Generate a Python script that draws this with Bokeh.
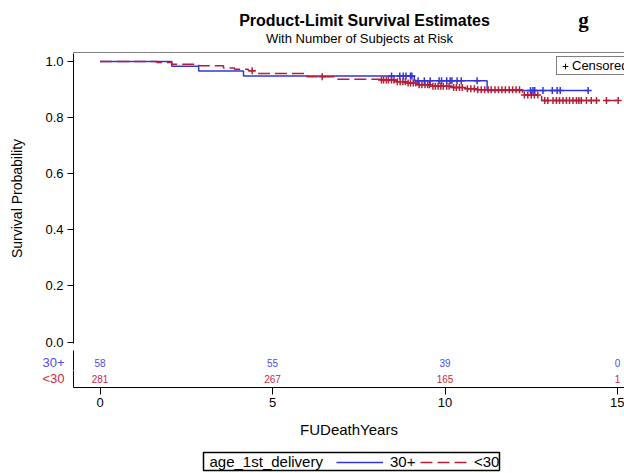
import numpy as np
from bokeh.plotting import figure
from bokeh.models import (Range1d, FixedTicker, NumeralTickFormatter, Legend, LegendItem,
                          Label, BoxAnnotation, ColumnDataSource)
from bokeh.layouts import column
from bokeh.embed import file_html
from bokeh.resources import INLINE
from bokeh.core.properties import value

# ---------------- data ----------------
groups = ["30+", "<30"]

blue_times = [0.0, 2.08, 2.86, 4.16, 9.11, 11.22]
blue_surv = [1.0, 0.983, 0.966, 0.948, 0.931, 0.897]
blue_end = 14.15
blue_censor = [8.45, 8.69, 8.79, 8.87, 9.00, 9.04,
               9.22, 9.40, 9.57, 9.83, 9.90, 10.05, 10.15, 10.20, 10.35, 10.47, 10.93,
               12.48, 12.55, 12.60, 12.84, 13.11, 13.25, 13.34, 14.15]

red_times = [0.0, 1.65, 2.08, 2.86, 3.58, 3.90, 4.30, 4.60, 6.00, 6.78, 8.14, 8.60,
             8.90, 9.20, 9.60, 10.20, 10.60, 10.90, 12.25, 12.80]
red_surv = [1.0, 0.996, 0.990, 0.985, 0.977, 0.972, 0.967, 0.957, 0.946, 0.937, 0.934, 0.928,
            0.923, 0.917, 0.912, 0.907, 0.903, 0.899, 0.881, 0.861]
red_end = 15.02
red_censor = [4.41, 6.44,
              8.16, 8.22, 8.30, 8.36, 8.45, 8.52, 8.62, 8.70, 8.78, 8.85,
              8.93, 9.00, 9.08, 9.15, 9.25, 9.33, 9.42, 9.50, 9.55,
              9.65, 9.72, 9.80, 9.88, 9.95, 10.05, 10.12, 10.25, 10.33, 10.42, 10.50,
              10.65, 10.75, 10.85, 10.95, 11.05, 11.15, 11.25, 11.34, 11.45, 11.55,
              11.65, 11.75, 11.86, 11.96, 12.06, 12.16, 12.30, 12.40, 12.50, 12.59, 12.69,
              12.89, 12.98, 13.13, 13.23, 13.32, 13.42, 13.52, 13.61, 13.71, 13.81,
              13.88, 13.95, 14.10, 14.24, 14.39, 14.68, 15.02]

risk_times = [0, 5, 10, 15]
risk_30plus = [58, 55, 39, 0]
risk_lt30 = [281, 267, 165, 1]

x_ticks = [0, 5, 10, 15]
y_ticks = [0.0, 0.2, 0.4, 0.6, 0.8, 1.0]

title_text = "Product-Limit Survival Estimates"
subtitle_text = "With Number of Subjects at Risk"
panel_tag = "g"
x_label = "FUDeathYears"
y_label = "Survival Probability"
legend_title = "age_1st_delivery"

# ---------------- style / geometry ----------------
FONT = "Liberation Sans"
BLUE = "#3434dc"
RED = "#b41e36"
BLUE_TXT = "#4c4ce8"
RED_TXT = "#c42a40"

W = 624
LEFT = 73                       # page x of the axes' left edge
PX_T0, PPU_X = 99.5, 34.5       # page x of t=0, pixels per year
PY_S0, PPU_Y = 341.5, 280.5     # page y of S=0, pixels per unit survival
BOX_TOP = 52                    # page y of the top edge of the axes box
X0 = (LEFT - PX_T0) / PPU_X
X1 = (W - PX_T0) / PPU_X
xr = Range1d(X0, X1)


def yd(py):
    return (PY_S0 - py) / PPU_Y


def surv_at(times, surv, t):
    idx = np.searchsorted(np.asarray(times), np.asarray(t), side="right") - 1
    return np.asarray(surv)[idx]


NAN = ColumnDataSource(dict(x=[float("nan")], y=[float("nan")]))


def bare(p):
    p.outline_line_color = None
    p.grid.visible = False
    return p


# ---------------- title strip (page y 0..53) ----------------
HT = 53
pT = bare(figure(width=W, height=HT, x_range=Range1d(LEFT, W), y_range=Range1d(HT, 0),
                 output_backend="svg", toolbar_location=None, title=None,
                 x_axis_location=None, y_axis_location=None,
                 min_border_left=LEFT, min_border_right=0, min_border_top=0,
                 min_border_bottom=0))
pT.add_layout(Label(x=364, y=20, text=title_text, text_font=FONT, text_font_size="16px",
                    text_font_style="bold", text_align="center", text_baseline="middle",
                    text_color="black"))
pT.add_layout(Label(x=359, y=37.5, text=subtitle_text, text_font=FONT,
                    text_font_size="13px", text_align="center", text_baseline="middle",
                    text_color="black"))
pT.add_layout(Label(x=583, y=19, text=panel_tag, text_font="Liberation Serif",
                    text_font_size="21px", text_font_style="bold", text_align="center",
                    text_baseline="middle", text_color="black"))
# top edge of the axes box
pT.line(x=[LEFT, W], y=[BOX_TOP + 0.5, BOX_TOP + 0.5], line_color="black", line_width=1)
pT.line(x=[LEFT + 0.5, LEFT + 0.5], y=[BOX_TOP, HT], line_color="black", line_width=1)

# ---------------- main survival panel (page y 53..350, frame 53..343) ----------------
pA = bare(figure(width=W, height=350 - HT, x_range=xr, y_range=Range1d(yd(343), yd(HT)),
                 output_backend="svg", toolbar_location=None, title=None,
                 x_axis_location=None,
                 min_border_left=LEFT, min_border_right=0, min_border_top=0,
                 min_border_bottom=7))

ya = pA.yaxis[0]
ya.ticker = FixedTicker(ticks=y_ticks)
ya.formatter = NumeralTickFormatter(format="0.0")
ya.minor_tick_line_color = None
ya.major_tick_out = 6
ya.major_tick_in = 0
ya.major_label_standoff = 4
ya.major_label_text_font = FONT
ya.major_label_text_font_size = "13px"
ya.major_label_text_color = "black"
ya.axis_line_color = "black"
ya.major_tick_line_color = "black"
ya.axis_label = y_label
ya.axis_label_text_font = FONT
ya.axis_label_text_font_size = "14px"
ya.axis_label_text_font_style = "normal"
ya.axis_label_text_color = "black"
ya.axis_label_standoff = 17

# curves
bx = blue_times + [blue_end]
by = blue_surv + [blue_surv[-1]]
rx = red_times + [red_end]
ry = red_surv + [red_surv[-1]]
pA.step(x=bx, y=by, mode="after", line_color=BLUE, line_width=1.5)
pA.step(x=rx, y=ry, mode="after", line_color=RED, line_width=1.5, line_dash="12 5")
pA.scatter(x=red_censor, y=surv_at(red_times, red_surv, red_censor), marker="cross",
           size=7, line_color=RED, line_width=1.5)
pA.scatter(x=blue_censor, y=surv_at(blue_times, blue_surv, blue_censor), marker="cross",
           size=7, line_color=BLUE, line_width=1.5)

# censored legend
cens_dummy = pA.scatter(x="x", y="y", source=NAN, marker="cross", size=8,
                        line_color="black", line_width=1)
legA = Legend(items=[LegendItem(label="Censored", renderers=[cens_dummy])],
              location=(556 - LEFT, 343 - 75), glyph_width=14, glyph_height=14,
              label_standoff=0, padding=1, margin=0, spacing=0, label_height=14,
              border_line_color="black", border_line_width=1,
              label_text_font=FONT, label_text_font_size="13px", label_text_color="black",
              background_fill_color="white", background_fill_alpha=1)
pA.add_layout(legA)


# ---------------- at-risk rows ----------------
def risk_row(counts, label, color, height, below, above, bottom_border, with_xaxis):
    p = bare(figure(width=W, height=height, x_range=xr,
                    y_range=Range1d(-below / 16, above / 16),
                    output_backend="svg", toolbar_location=None, title=None,
                    x_axis_location="below" if with_xaxis else None,
                    min_border_left=LEFT, min_border_right=0, min_border_top=0,
                    min_border_bottom=bottom_border))
    ax = p.yaxis[0]
    ax.ticker = FixedTicker(ticks=[0])
    ax.major_label_overrides = {0: label}
    ax.major_tick_line_color = None
    ax.minor_tick_line_color = None
    ax.major_tick_out = 0
    ax.major_tick_in = 0
    ax.major_label_standoff = 9
    ax.major_label_text_font = FONT
    ax.major_label_text_font_size = "13px"
    ax.major_label_text_color = color
    ax.axis_line_color = "black"
    p.text(x=risk_times, y=[0] * len(risk_times), text=[str(v) for v in counts],
           text_align="center", text_baseline="middle", text_font_size="10px",
           text_color=color, text_font=value(FONT))
    return p


pB1 = risk_row(risk_30plus, groups[0], BLUE_TXT, 20, 8, 12, 0, False)
pB2 = risk_row(risk_lt30, groups[1], RED_TXT, 75, 9, 8, 58, True)

xb = pB2.xaxis[0]
xb.ticker = FixedTicker(ticks=x_ticks)
xb.minor_tick_line_color = None
xb.major_tick_out = 7
xb.major_tick_in = 0
xb.major_label_standoff = 3
xb.major_label_text_font = FONT
xb.major_label_text_font_size = "13px"
xb.major_label_text_color = "black"
xb.axis_line_color = "black"
xb.major_tick_line_color = "black"
xb.axis_label = x_label
xb.axis_label_text_font = FONT
xb.axis_label_text_font_size = "15px"
xb.axis_label_text_font_style = "normal"
xb.axis_label_text_color = "black"
xb.axis_label_standoff = 11

# ---------------- group legend (page y 445..473) ----------------
HC = 28
pC = bare(figure(width=W, height=HC, x_range=Range1d(LEFT, W), y_range=Range1d(0, HC),
                 output_backend="svg", toolbar_location=None, title=None,
                 x_axis_location=None, y_axis_location=None,
                 min_border_left=LEFT, min_border_right=0, min_border_top=0,
                 min_border_bottom=0))

lb = pC.line(x="x", y="y", source=NAN, line_color=BLUE, line_width=1.5)
lr = pC.line(x="x", y="y", source=NAN, line_color=RED, line_width=1.5, line_dash="12 5")
for rend, lab, x_start in [(lb, groups[0], 336), (lr, groups[1], 420)]:
    pC.add_layout(Legend(items=[LegendItem(label=lab, renderers=[rend])],
                         location=(x_start - LEFT, 3),
                         glyph_width=47, glyph_height=16, label_standoff=7, spacing=0,
                         padding=0, margin=0, label_width=10, label_height=16,
                         border_line_color=None, background_fill_alpha=0,
                         label_text_font=FONT, label_text_font_size="15px",
                         label_text_color="black"))
pC.add_layout(Label(x=209, y=473 - 461, text=legend_title, text_font=FONT,
                    text_font_size="15px", text_baseline="middle", text_color="black"))
pC.add_layout(BoxAnnotation(left=203, right=499, bottom=473 - 470, top=473 - 452,
                            fill_color=None, fill_alpha=0, line_color="black",
                            line_width=1.5, line_alpha=1))

layout = column(pT, pA, pB1, pB2, pC)
open("out.html", "w").write(file_html(layout, INLINE))
